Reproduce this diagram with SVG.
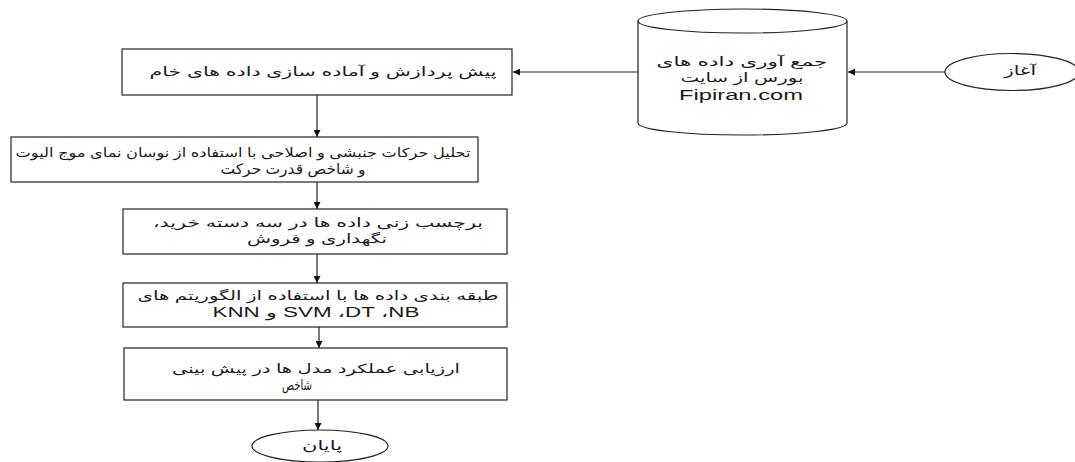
<svg xmlns="http://www.w3.org/2000/svg" width="1075" height="462" viewBox="0 0 1075 462">
<style>
.shape{fill:#fff;stroke:#222;stroke-width:1.2}
.edge{fill:none;stroke:#222;stroke-width:1.2}
.t{font-family:"Liberation Sans","DejaVu Sans",sans-serif;font-size:12.5px;fill:#1a1a1a;text-anchor:middle}
.lat{font-size:14px}
.big{font-size:14.5px}
</style>
<defs>
<marker id="arr" viewBox="0 0 10 10" refX="10" refY="5" markerWidth="9" markerHeight="7" markerUnits="userSpaceOnUse" orient="auto">
<path d="M0,0 L10,5 L0,10 z" fill="#111"/>
</marker>
</defs>
<rect width="1075" height="462" fill="#fff"/>
<g id="connectors">
<line class="edge" x1="945" y1="72" x2="848" y2="72" marker-end="url(#arr)"/>
<line class="edge" x1="638" y1="72" x2="513" y2="72" marker-end="url(#arr)"/>
<line class="edge" x1="317" y1="95" x2="317" y2="137" marker-end="url(#arr)"/>
<line class="edge" x1="317" y1="182" x2="317" y2="209" marker-end="url(#arr)"/>
<line class="edge" x1="317" y1="254" x2="317" y2="283" marker-end="url(#arr)"/>
<line class="edge" x1="319" y1="327" x2="319" y2="348" marker-end="url(#arr)"/>
<line class="edge" x1="318" y1="400" x2="318" y2="430" marker-end="url(#arr)"/>
</g>
<g id="start">
<ellipse class="shape" cx="1012" cy="72" rx="67" ry="18.5"/>
<text class="t" x="1020" y="75" direction="rtl" textLength="32" lengthAdjust="spacingAndGlyphs">آغاز</text>
</g>
<g id="collect">
<path class="shape" d="M638,21 L638,123 A104.5,12 0 0 0 847,123 L847,21"/>
<ellipse class="shape" cx="742.5" cy="21" rx="104.5" ry="12"/>
<text class="t" x="742" y="66" direction="rtl" textLength="171" lengthAdjust="spacingAndGlyphs">جمع آوری داده های</text>
<text class="t" x="742" y="82" direction="rtl" textLength="123" lengthAdjust="spacingAndGlyphs">بورس از سایت</text>
<text class="t lat" x="741" y="100" textLength="124" lengthAdjust="spacingAndGlyphs">Fipiran.com</text>
</g>
<g id="preprocess">
<rect class="shape" x="122" y="49" width="390" height="46"/>
<text class="t" x="323" y="76" direction="rtl" textLength="347" lengthAdjust="spacingAndGlyphs">پیش پردازش و آماده سازی داده های خام</text>
</g>
<g id="analysis">
<rect class="shape" x="11" y="137" width="467" height="45"/>
<text class="t" x="243" y="157" direction="rtl" textLength="455" lengthAdjust="spacingAndGlyphs">تحلیل حرکات جنبشی و اصلاحی با استفاده از نوسان نمای موج الیوت</text>
<text class="t big" x="293" y="174" direction="rtl" textLength="145" lengthAdjust="spacingAndGlyphs">و شاخص قدرت حرکت</text>
</g>
<g id="labeling">
<rect class="shape" x="123" y="209" width="384" height="45"/>
<text class="t" x="318" y="227" direction="rtl" textLength="330" lengthAdjust="spacingAndGlyphs">برچسب زنی داده ها در سه دسته خرید،</text>
<text class="t" x="317" y="243" direction="rtl" textLength="140" lengthAdjust="spacingAndGlyphs">نگهداری و فروش</text>
</g>
<g id="classify">
<rect class="shape" x="123" y="283" width="384" height="44"/>
<text class="t" x="318" y="300" direction="rtl" textLength="361" lengthAdjust="spacingAndGlyphs">طبقه بندی داده ها با استفاده از الگوریتم های</text>
<text class="t lat" x="316" y="317" direction="rtl" textLength="207" lengthAdjust="spacingAndGlyphs">NB،&#x200F; DT،&#x200F; SVM و KNN</text>
</g>
<g id="evaluate">
<rect class="shape" x="124" y="348" width="383" height="52"/>
<text class="t" x="316" y="373" direction="rtl" textLength="288" lengthAdjust="spacingAndGlyphs">ارزیابی عملکرد مدل ها در پیش بینی</text>
<text class="t big" x="297" y="390" direction="rtl" textLength="30" lengthAdjust="spacingAndGlyphs">شاخص</text>
</g>
<g id="end">
<ellipse class="shape" cx="320" cy="446" rx="68" ry="16"/>
<text class="t" x="322" y="450" direction="rtl" textLength="40" lengthAdjust="spacingAndGlyphs">پایان</text>
</g>
</svg>
